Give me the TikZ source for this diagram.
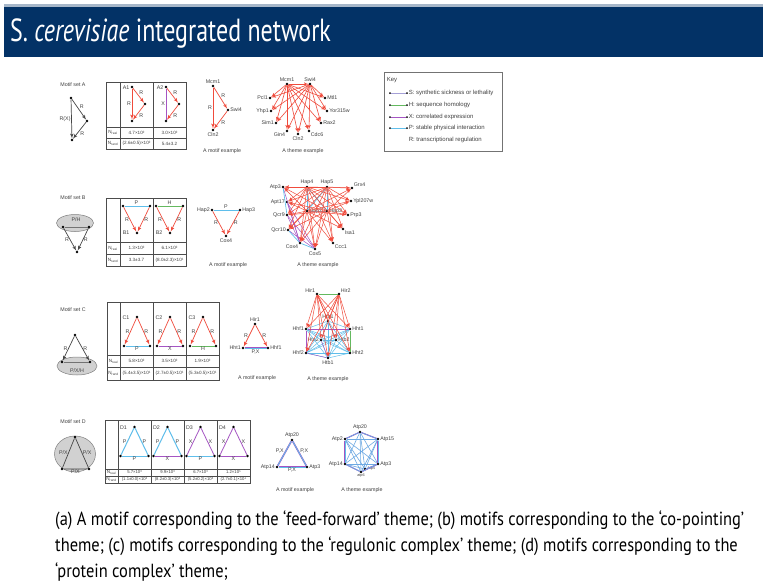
\documentclass[tikz,border=0pt]{standalone}
\usepackage{graphicx}
\usepackage{fontspec}
\setmainfont{PT Sans}
\newfontfamily\arialf{Liberation Sans}
\usetikzlibrary{positioning, shapes, arrows}
\definecolor{titleblue}{RGB}{3,50,102}
\definecolor{relred}{RGB}{240,75,60}
\definecolor{ppiblue}{RGB}{95,190,235}
\definecolor{homgreen}{RGB}{100,185,95}
\definecolor{expurple}{RGB}{165,85,195}
\definecolor{ssllav}{RGB}{165,160,215}
\definecolor{motifgray}{RGB}{70,70,70}

\begin{document}
\begin{tikzpicture}[
		x=1pt, y=-1pt,
		dot/.style={circle, fill=black, inner sep=0pt, minimum size=2.6pt},
		lbl/.style={font=\arialf\fontsize{5.3}{6}\selectfont, inner sep=0.6pt, text=black!75},
		val/.style={font=\arialf\fontsize{4.6}{5}\selectfont, inner sep=0pt, text=black!75},
		keytxt/.style={font=\arialf\fontsize{6}{7}\selectfont, inner sep=0.6pt, text=black!75, anchor=west},
		rline/.style={draw=relred, line width=0.7pt, -latex'},
		pline/.style={draw=ppiblue, line width=1pt},
		hline/.style={draw=homgreen, line width=1pt},
		xline/.style={draw=expurple, line width=0.8pt},
		sline/.style={draw=ssllav, line width=1pt},
		pxline/.style={draw=expurple, line width=0.4pt, double=ppiblue, double distance=0.8pt},
		gline/.style={draw=motifgray, line width=0.7pt, -latex'},
		tab/.style={draw=black!70, line width=0.5pt},
		blob/.style={ellipse, draw=black!50, fill=black!18, line width=0.5pt}
		]
		
		\useasboundingbox (0,0) rectangle (763,582);
		\fill[white] (0,0) rectangle (763,582);
		
		% Title bar
		\fill[titleblue!35] (4,4) rectangle (763,7);
		\fill[titleblue] (4,7) rectangle (763,57);
		\node[anchor=west, text=white, inner sep=0pt] (title) at (10,33)
			{\scalebox{0.75}[1]{\fontsize{32}{34}\selectfont S. \textit{cerevisiae} integrated network}};
		
		% ---------------- Motif set A ----------------
		\node[lbl] (msetA) at (73,85) {Motif set A};
		\node[dot] (gA1) at (71,98) {};
		\node[dot] (gA2) at (87,121) {};
		\node[dot] (gA3) at (72,140) {};
		\draw[gline] (gA1) -- node[lbl, above right] {R} (gA2);
		\draw[gline] (gA1) -- node[lbl, left] {R(X)} (gA3);
		\draw[gline] (gA2) -- node[lbl, below right] {R} (gA3);
		
		% table A
		\draw[tab, line width=0.9pt] (106,82) rectangle (186,149);
		\draw[tab] (120,82) -- (120,149) (153,82) -- (153,149) (106,127) -- (186,127) (106,138) -- (186,138);
		\node[val] (nrA) at (113,132.5) {N\textsubscript{real}};
		\node[val] (ndA) at (113,143.5) {N\textsubscript{rand}};
		\node[val] (vA1r) at (136.5,132.5) {4.7×10²};
		\node[val] (vA2r) at (169.5,132.5) {3.0×10²};
		\node[val] (vA1d) at (136.5,143.5) {(2.6±0.5)×10²};
		\node[val] (vA2d) at (169.5,143.5) {5.4±3.2};
		
		\node[lbl] (tA1) at (126,88) {A1};
		\node[dot] (a1t) at (132,87) {};
		\node[dot] (a1r) at (145,104) {};
		\node[dot] (a1b) at (132,121) {};
		\draw[rline] (a1t) -- node[lbl, above right] {R} (a1r);
		\draw[rline] (a1t) -- node[lbl, left] {R} (a1b);
		\draw[rline] (a1r) -- node[lbl, below right] {R} (a1b);
		
		\node[lbl] (tA2) at (160,88) {A2};
		\node[dot] (a2t) at (166,87) {};
		\node[dot] (a2r) at (179,104) {};
		\node[dot] (a2b) at (166,121) {};
		\draw[rline] (a2t) -- node[lbl, above right] {R} (a2r);
		\draw[xline] (a2t) -- node[lbl, left] {X} (a2b);
		\draw[rline] (a2r) -- node[lbl, below right] {R} (a2b);
		
		% motif example A
		\node[dot, label={[lbl]above:Mcm1}] (eAmcm) at (213,86) {};
		\node[dot, label={[lbl]right:Swi4}] (eAswi) at (228,110) {};
		\node[dot, label={[lbl]below:Cln2}] (eAcln) at (213,130) {};
		\draw[rline] (eAmcm) -- node[lbl, above right] {R} (eAswi);
		\draw[rline] (eAmcm) -- node[lbl, left] {R} (eAcln);
		\draw[rline] (eAswi) -- node[lbl, below right] {R} (eAcln);
		\node[lbl] (capAm) at (222,151) {A motif example};
		
		% theme example A
		\node[dot, label={[lbl]above:Mcm1}] (tmcm) at (287,84) {};
		\node[dot, label={[lbl]above:Swi4}] (tswi) at (310,84) {};
		\node[dot, label={[lbl]left:Pcl1}] (tpcl) at (270,98) {};
		\node[dot, label={[lbl]left:Yhp1}] (tyhp) at (271,111) {};
		\node[dot, label={[lbl]left:Sim1}] (tsim) at (276,123) {};
		\node[dot, label={[lbl]below left:Gin4}] (tgin) at (287,131) {};
		\node[dot, label={[lbl]below:Cln2}] (tcln) at (298,134) {};
		\node[dot, label={[lbl]below right:Cdc6}] (tcdc) at (309,131) {};
		\node[dot, label={[lbl]right:Rax2}] (trax) at (321,123) {};
		\node[dot, label={[lbl]right:Yor315w}] (tyor) at (327,111) {};
		\node[dot, label={[lbl]right:Mtl1}] (tmtl) at (325,98) {};
		\foreach \r in {tmcm,tswi}
			\foreach \t in {tpcl,tyhp,tsim,tgin,tcln,tcdc,trax,tyor,tmtl}
				\draw[rline, line width=0.6pt] (\r) -- (\t);
		\draw[rline, line width=0.6pt] (tmcm) -- (tswi);
		\node[lbl] (capAt) at (303,151) {A theme example};
		
		% Key
		\draw[draw=black!55, line width=0.8pt] (384,72) rectangle (502,151);
		\node[keytxt] (keyt) at (386,80) {Key};
		\foreach \y/\s/\t in {93/sline/S: synthetic sickness or lethality,
			105/hline/H: sequence homology,
			117/xline/X: correlated expression,
			128/pline/P: stable physical interaction}{
			\node[dot, minimum size=2pt] (ka\y) at (390,\y) {};
			\node[dot, minimum size=2pt] (kb\y) at (407,\y) {};
			\draw[\s] (ka\y) -- (kb\y);
			\node[keytxt] (kt\y) at (408,\y) {\t};
		}
		\node[keytxt] (kt140) at (408,140) {R: transcriptional regulation};
		
		% ---------------- Motif set B ----------------
		\node[lbl] (msetB) at (73,198) {Motif set B};
		\node[blob, minimum width=37pt, minimum height=17pt] (blobB) at (75,223) {};
		\node[dot] (gB1) at (63,227) {};
		\node[dot] (gB2) at (89,227) {};
		\node[dot] (gB3) at (77,252) {};
		\draw[draw=black!55, line width=0.6pt] (gB1) -- (gB2);
		\node[lbl] (phB) at (76,220) {P/H};
		\draw[gline] (gB1) -- node[lbl, left] {R} (gB3);
		\draw[gline] (gB2) -- node[lbl, right] {R} (gB3);
		
		% table B
		\draw[tab, line width=0.9pt] (106,198) rectangle (186,266);
		\draw[tab] (120,198) -- (120,266) (153,198) -- (153,266) (106,242) -- (186,242) (106,254) -- (186,254);
		\node[val] (nrB) at (113,248) {N\textsubscript{real}};
		\node[val] (ndB) at (113,260) {N\textsubscript{rand}};
		\node[val] (vB1r) at (136.5,248) {1.3×10²};
		\node[val] (vB2r) at (169.5,248) {6.1×10²};
		\node[val] (vB1d) at (136.5,260) {3.3±3.7};
		\node[val] (vB2d) at (169.5,260) {(8.0±2.3)×10¹};
		
		\node[dot] (b1l) at (123,206) {};
		\node[dot] (b1r) at (150,206) {};
		\node[dot] (b1b) at (137,233) {};
		\draw[pline] (b1l) -- node[lbl, above] {P} (b1r);
		\draw[rline] (b1l) -- node[lbl, left] {R} (b1b);
		\draw[rline] (b1r) -- node[lbl, right] {R} (b1b);
		\node[lbl] (tB1) at (126,233) {B1};
		
		\node[dot] (b2l) at (156,206) {};
		\node[dot] (b2r) at (183,206) {};
		\node[dot] (b2b) at (170,233) {};
		\draw[hline] (b2l) -- node[lbl, above] {H} (b2r);
		\draw[rline] (b2l) -- node[lbl, left] {R} (b2b);
		\draw[rline] (b2r) -- node[lbl, right] {R} (b2b);
		\node[lbl] (tB2) at (159,233) {B2};
		
		% motif example B
		\node[dot, label={[lbl]left:Hap2}] (eBhap2) at (212,210) {};
		\node[dot, label={[lbl]right:Hap3}] (eBhap3) at (240,210) {};
		\node[dot, label={[lbl]below:Cox4}] (eBcox) at (226,236) {};
		\draw[pline] (eBhap2) -- node[lbl, above] {P} (eBhap3);
		\draw[rline] (eBhap2) -- node[lbl, left] {R} (eBcox);
		\draw[rline] (eBhap3) -- node[lbl, right] {R} (eBcox);
		\node[lbl] (capBm) at (228,265) {A motif example};
		
		% theme example B
		\node[dot, label={[lbl]left:Atp3}] (batp3) at (283,187) {};
		\node[dot, label={[lbl]above:Hap4}] (bhap4) at (307,187) {};
		\node[dot, label={[lbl]above:Hap5}] (bhap5) at (327,187) {};
		\node[dot, label={[lbl]above right:Grx4}] (bgrx4) at (352,188) {};
		\node[dot, label={[lbl]right:Ypl207w}] (bypl) at (351,201) {};
		\node[dot, label={[lbl]left:Apt17}] (batp17) at (287,202) {};
		\node[dot, label={[lbl]left:Qcr9}] (bqcr9) at (287,215) {};
		\node[dot, label={[lbl]right:Hap2}] (bhap2) at (307,211) {};
		\node[dot, label={[lbl]right:Hap3}] (bhap3) at (327,211) {};
		\node[dot, label={[lbl]right:Prp3}] (bprp3) at (348,215) {};
		\node[dot, label={[lbl]left:Qcr10}] (bqcr10) at (288,230) {};
		\node[dot, label={[lbl]below right:Isa1}] (bisa1) at (343,229) {};
		\node[dot, label={[lbl]below left:Cox4}] (bcox4) at (300,243) {};
		\node[dot, label={[lbl]below:Cox5}] (bcox5) at (315,249) {};
		\node[dot, label={[lbl]below right:Ccc1}] (bccc1) at (333,243) {};
		\foreach \a/\b in {batp3/bcox4,batp17/bcox5,bqcr9/bcox5,bqcr10/bcox5,bqcr9/bcox4,batp17/bcox4}
			\draw[xline, line width=0.5pt] (\a) -- (\b);
		\foreach \a/\b in {bhap4/bhap5,bhap4/bhap2,bhap4/bhap3,bhap5/bhap2,bhap5/bhap3,bhap2/bhap3,batp3/bqcr9,bqcr10/bcox4,bcox4/bcox5}
			\draw[pline, line width=0.7pt] (\a) -- (\b);
		\foreach \r in {bhap4,bhap5,bhap2,bhap3}
			\foreach \t in {batp3,batp17,bqcr9,bqcr10,bcox4,bcox5,bccc1,bisa1,bprp3,bypl,bgrx4}
				\draw[rline, line width=0.5pt] (\r) -- (\t);
		\node[lbl] (capBt) at (318,265) {A theme example};
		
		% ---------------- Motif set C ----------------
		\node[lbl] (msetC) at (73,310) {Motif set C};
		\node[blob, minimum width=40pt, minimum height=18pt] (blobC) at (77,366) {};
		\node[dot] (gC1) at (75,335) {};
		\node[dot] (gC2) at (62,362) {};
		\node[dot] (gC3) at (90,362) {};
		\draw[draw=black!55, line width=0.6pt] (gC2) -- (gC3);
		\node[lbl] (pxhC) at (77,371) {P/X/H};
		\draw[gline] (gC1) -- node[lbl, left] {R} (gC2);
		\draw[gline] (gC1) -- node[lbl, right] {R} (gC3);
		
		% table C
		\draw[tab, line width=0.9pt] (107,302) rectangle (219,380);
		\draw[tab] (120,302) -- (120,380) (153,302) -- (153,380) (186,302) -- (186,380) (107,355) -- (219,355) (107,367) -- (219,367);
		\node[val] (nrC) at (113.5,361) {N\textsubscript{real}};
		\node[val] (ndC) at (113.5,373.5) {N\textsubscript{rand}};
		\node[val] (vC1r) at (136.5,361) {5.8×10²};
		\node[val] (vC2r) at (169.5,361) {3.5×10²};
		\node[val] (vC3r) at (202.5,361) {1.9×10²};
		\node[val] (vC1d) at (136.5,373.5) {(5.4±3.5)×10¹};
		\node[val] (vC2d) at (169.5,373.5) {(2.7±0.5)×10¹};
		\node[val] (vC3d) at (202.5,373.5) {(5.3±0.5)×10¹};
		
		\foreach \n/\cx/\ty/\tl in {1/137/pline/P,2/170/xline/X,3/203/hline/H}{
			\node[lbl] (tC\n) at (\cx-11,318) {C\n};
			\node[dot] (c\n t) at (\cx,317) {};
			\node[dot] (c\n l) at (\cx-13,346) {};
			\node[dot] (c\n r) at (\cx+13,346) {};
			\draw[rline] (c\n t) -- node[lbl, left] {R} (c\n l);
			\draw[rline] (c\n t) -- node[lbl, right] {R} (c\n r);
			\draw[\ty] (c\n l) -- node[lbl, below] {\tl} (c\n r);
		}
		
		% motif example C
		\node[dot, label={[lbl]above:Hir1}] (eChir) at (255,324) {};
		\node[dot, label={[lbl]left:Hht1}] (eChht) at (243,348) {};
		\node[dot, label={[lbl]right:Hhf1}] (eChhf) at (268,348) {};
		\draw[rline] (eChir) -- node[lbl, left] {R} (eChht);
		\draw[rline] (eChir) -- node[lbl, right] {R} (eChhf);
		\draw[pxline] (eChht) -- node[lbl, below=0.6pt] {P,X} (eChhf);
		\node[lbl] (capCm) at (257,378) {A motif example};
		
		% theme example C
		\node[dot, label={[lbl]above left:Hir1}] (chir1) at (317,294) {};
		\node[dot, label={[lbl]above right:Hir2}] (chir2) at (339,294) {};
		\node[dot, label={[lbl]above:Hta1}] (chta1) at (328,321) {};
		\node[dot, label={[lbl]left:Hhf1}] (chhf1) at (306,329) {};
		\node[dot, label={[lbl]right:Hht1}] (chht1) at (350,329) {};
		\node[dot, label={[lbl]left:Hta2}] (chta2) at (321,340) {};
		\node[dot, label={[lbl]right:Htb2}] (chtb2) at (336,340) {};
		\node[dot, label={[lbl]left:Hhf2}] (chhf2) at (306,353) {};
		\node[dot, label={[lbl]right:Hht2}] (chht2) at (350,353) {};
		\node[dot, label={[lbl]below:Htb1}] (chtb1) at (328,358) {};
		\draw[hline] (chir1) -- (chir2);
		\foreach \a [count=\i] in {chta1,chhf1,chht1,chta2,chtb2,chhf2,chht2,chtb1}{
			\foreach \b [count=\j] in {chta1,chhf1,chht1,chta2,chtb2,chhf2,chht2,chtb1}{
				\ifnum\i<\j \draw[pline, line width=0.5pt] (\a) -- (\b); \fi
			}
		}
		\foreach \a/\b in {chhf1/chhf2,chht1/chht2,chhf1/chht1,chta2/chtb1,chhf2/chtb1}
			\draw[xline, line width=0.4pt] (\a) -- (\b);
		\draw[hline, line width=0.6pt] (chht1) -- (chht2);
		\foreach \r in {chir1,chir2}
			\foreach \t in {chta1,chhf1,chht1,chta2,chtb2,chhf2,chht2,chtb1}
				\draw[rline, line width=0.5pt] (\r) -- (\t);
		\node[lbl] (capCt) at (328,379) {A theme example};
		
		% ---------------- Motif set D ----------------
		\node[lbl] (msetD) at (73,422) {Motif set D};
		\node[blob, minimum width=41pt, minimum height=36pt] (blobD) at (75,454) {};
		\node[dot] (gD1) at (75,437) {};
		\node[dot] (gD2) at (62,469) {};
		\node[dot] (gD3) at (89,469) {};
		\draw[draw=motifgray, line width=0.7pt] (gD1) -- node[lbl, left] {P/X} (gD2) -- node[lbl, below] {P/X} (gD3) -- node[lbl, right] {P/X} (gD1);
		
		% table D
		\draw[tab, line width=0.9pt] (105,420) rectangle (250,483);
		\draw[tab] (118,420) -- (118,483) (151,420) -- (151,483) (184,420) -- (184,483) (217,420) -- (217,483)
			(105,469) -- (250,469) (105,476) -- (250,476);
		\node[val] (nrD) at (111.5,472.5) {N\textsubscript{real}};
		\node[val] (ndD) at (111.5,479.5) {N\textsubscript{rand}};
		\foreach \n/\cx/\ls/\bs/\ll/\bl/\vr/\vd in {
			1/134.5/pline/pline/P/P/5.7×10³/(1.1±0.0)×10³,
			2/167.5/pline/xline/P/X/9.9×10³/(8.2±0.3)×10³,
			3/200.5/xline/pline/X/P/6.7×10³/(5.2±0.2)×10³,
			4/233.5/xline/xline/X/X/1.2×10⁵/(2.7±0.1)×10⁴}{
			\node[lbl] (tD\n) at (\cx-11,428) {D\n};
			\node[dot] (d\n t) at (\cx,427) {};
			\node[dot] (d\n l) at (\cx-14,456) {};
			\node[dot] (d\n r) at (\cx+14,456) {};
			\draw[\ls] (d\n t) -- node[lbl, left] {\ll} (d\n l);
			\draw[\ls] (d\n t) -- node[lbl, right] {\ll} (d\n r);
			\draw[\bs] (d\n l) -- node[lbl, below] {\bl} (d\n r);
			\node[val, font=\arialf\fontsize{4.2}{5}\selectfont] (vD\n r) at (\cx,472.5) {\vr};
			\node[val, font=\arialf\fontsize{4.2}{5}\selectfont] (vD\n d) at (\cx,479.5) {\vd};
		}
		
		% motif example D
		\node[dot, label={[lbl]above:Atp20}] (eDatp20) at (292,440) {};
		\node[dot, label={[lbl]left:Atp14}] (eDatp14) at (277,467) {};
		\node[dot, label={[lbl]right:Atp3}] (eDatp3) at (307,467) {};
		\draw[pxline] (eDatp20) -- node[lbl, above left] {P,X} (eDatp14);
		\draw[pxline] (eDatp20) -- node[lbl, above right] {P,X} (eDatp3);
		\draw[pxline] (eDatp14) -- node[lbl, below] {P,X} (eDatp3);
		\node[lbl] (capDm) at (295,490) {A motif example};
		
		% theme example D
		\node[dot, label={[lbl]above:Atp20}] (datp20) at (360,432) {};
		\node[dot, label={[lbl]left:Atp2}] (datp2) at (345,439) {};
		\node[dot, label={[lbl]right:Atp15}] (datp15) at (378,439) {};
		\node[dot, label={[lbl]left:Atp14}] (datp14) at (345,464) {};
		\node[dot, label={[lbl]right:Atp3}] (datp3) at (378,464) {};
		\node[dot, label={[lbl, font=\arialf\fontsize{3.8}{4}\selectfont]right:Atp5}] (datp5) at (365,469) {};
		\node[dot, label={[lbl, font=\arialf\fontsize{3.8}{4}\selectfont]below:atp6}] (datp6) at (361,472) {};
		\foreach \a [count=\i] in {datp20,datp15,datp3,datp5,datp6,datp14,datp2}{
			\foreach \b [count=\j] in {datp20,datp15,datp3,datp5,datp6,datp14,datp2}{
				\ifnum\i<\j \draw[draw=ppiblue!80!expurple, line width=0.6pt] (\a) -- (\b); \fi
			}
		}
		\foreach \a/\b in {datp20/datp15,datp15/datp3,datp3/datp6,datp6/datp14,datp14/datp2,datp2/datp20}
			\draw[pxline, line width=0.3pt, double distance=0.5pt] (\a) -- (\b);
		\node[lbl] (capDt) at (362,490) {A theme example};
		
		% caption
		\node[anchor=north west, inner sep=0pt] (caption) at (55,507)
			{\scalebox{0.865}[1]{\fontsize{19}{26}\selectfont\begin{tabular}{@{}l@{}}
				(a) A motif corresponding to the ‘feed-forward’ theme; (b) motifs corresponding to the ‘co-pointing’\\
				theme; (c) motifs corresponding to the ‘regulonic complex’ theme; (d) motifs corresponding to the\\
				‘protein complex’ theme;
			\end{tabular}}};
		
	\end{tikzpicture}
\end{document}
